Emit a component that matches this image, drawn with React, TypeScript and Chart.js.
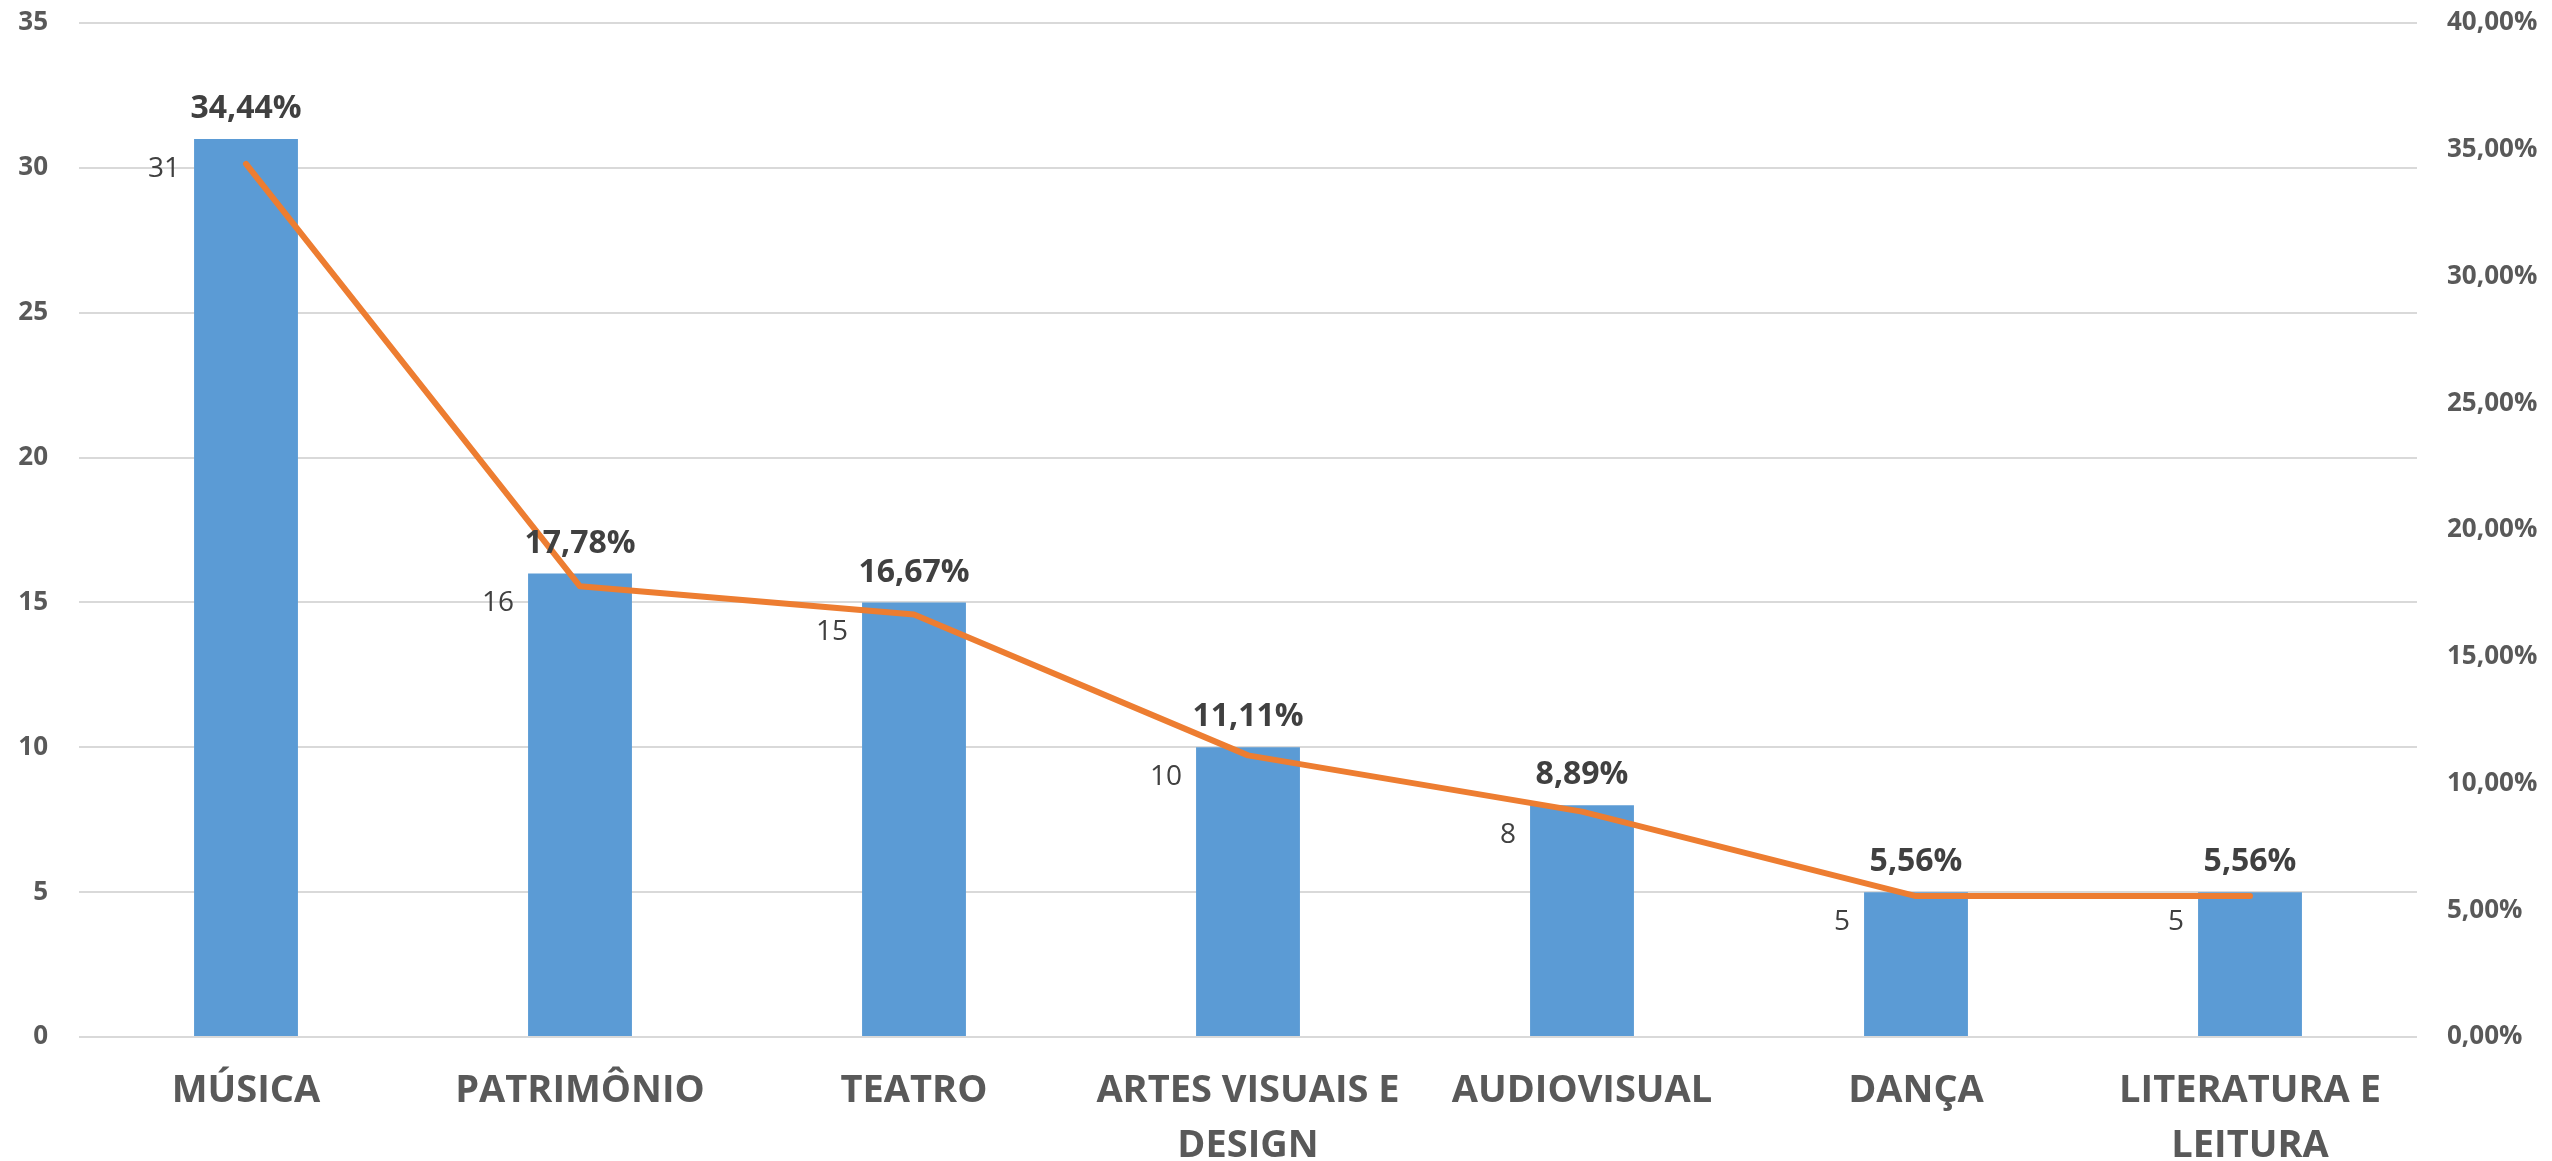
import React, { useEffect, useRef } from "react";
import { Chart, registerables } from "chart.js";

Chart.register(...registerables);

const categories: (string | string[])[] = [
  "MÚSICA",
  "PATRIMÔNIO",
  "TEATRO",
  ["ARTES VISUAIS E", "DESIGN"],
  "AUDIOVISUAL",
  "DANÇA",
  ["LITERATURA E", "LEITURA"],
];
const counts = [31, 16, 15, 10, 8, 5, 5];
const percents = [34.44, 17.78, 16.67, 11.11, 8.89, 5.56, 5.56];

const FONT = "'Open Sans', 'DejaVu Sans', sans-serif";
const BAR_COLOR = "#5b9bd5";
const LINE_COLOR = "#ed7d31";
const AXIS_TEXT = "#595959";
const LABEL_TEXT = "#404040";
const GRID = "#d9d9d9";

const fmtPct = (v: number) => v.toFixed(2).replace(".", ",") + "%";

const labelPlugin = {
  id: "paretoLabels",
  afterDatasetsDraw(chart: any) {
    const ctx = chart.ctx;
    const barMeta = chart.getDatasetMeta(1);
    ctx.save();
    barMeta.data.forEach((bar: any, i: number) => {
      const props = bar.getProps(["x", "y", "width"], true);
      const left = props.x - props.width / 2;
      ctx.font = `bold 32px ${FONT}`;
      ctx.fillStyle = LABEL_TEXT;
      ctx.textAlign = "center";
      ctx.textBaseline = "middle";
      ctx.fillText(fmtPct(percents[i]), props.x, props.y - 30);
      ctx.font = `28px ${FONT}`;
      ctx.textAlign = "right";
      ctx.fillText(String(counts[i]), left - 14, props.y + 30);
    });
    ctx.restore();
  },
};

export default function App() {
  const ref = useRef<HTMLCanvasElement>(null);
  useEffect(() => {
    document.body.style.margin = "0";
    const canvas = ref.current!;
    const chart = new Chart(canvas, {
      type: "bar",
      data: {
        labels: categories,
        datasets: [
          {
            type: "line",
            label: "%",
            data: percents,
            yAxisID: "y1",
            borderColor: LINE_COLOR,
            backgroundColor: LINE_COLOR,
            borderWidth: 6,
            borderCapStyle: "round",
            borderJoinStyle: "round",
            pointRadius: 0,
            tension: 0,
            order: 1,
          } as any,
          {
            type: "bar",
            label: "Qtd",
            data: counts,
            yAxisID: "y",
            backgroundColor: BAR_COLOR,
            barPercentage: 0.311,
            categoryPercentage: 1,
            order: 2,
          },
        ],
      },
      options: {
        responsive: false,
        animation: false,
        layout: { padding: { top: 0, left: 0, right: 0, bottom: 0 } },
        plugins: {
          legend: { display: false },
          tooltip: { enabled: false },
        },
        scales: {
          x: {
            grid: { display: false, drawTicks: false },
            border: { display: false },
            ticks: {
              padding: 27,
              color: AXIS_TEXT,
              font: { family: FONT, size: 38, weight: "bold", lineHeight: 1.45 },
              maxRotation: 0,
              autoSkip: false,
            },
            afterFit: (s: any) => {
              s.height = 124;
            },
          },
          y: {
            position: "left",
            min: 0,
            max: 35,
            ticks: {
              stepSize: 5,
              padding: 31,
              color: AXIS_TEXT,
              font: { family: FONT, size: 26, weight: "bold" },
            },
            grid: { color: GRID, lineWidth: 2, drawTicks: false },
            border: { display: false },
            afterFit: (s: any) => {
              s.width = 79;
              s.paddingTop = 23;
            },
          },
          y1: {
            position: "right",
            min: 0,
            max: 40,
            ticks: {
              stepSize: 5,
              padding: 30,
              color: AXIS_TEXT,
              font: { family: FONT, size: 26, weight: "bold" },
              callback: (v: any) => fmtPct(Number(v)),
            },
            grid: { display: false, drawOnChartArea: false, drawTicks: false },
            border: { display: false },
            afterFit: (s: any) => {
              s.width = 135;
              s.paddingTop = 23;
            },
          },
        },
      },
      plugins: [labelPlugin],
    } as any);
    (document as any).fonts?.ready?.then(() => chart.update());
    return () => chart.destroy();
  }, []);
  return (
    <div style={{ position: "fixed", left: 0, top: 0, width: 2552, height: 1161, background: "#fff" }}>
      <canvas ref={ref} width={2552} height={1161} style={{ display: "block" }} />
    </div>
  );
}
